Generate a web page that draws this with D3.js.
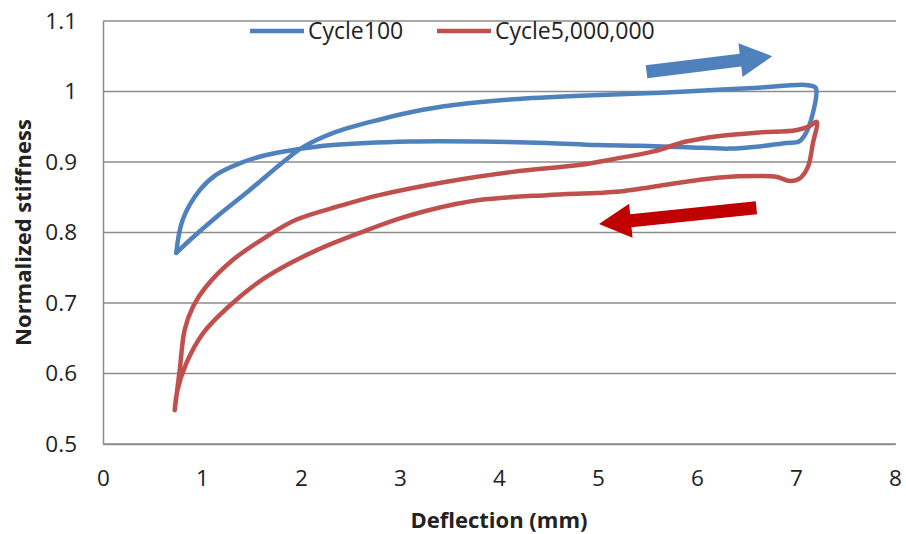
<!DOCTYPE html>
<html>
<head>
<meta charset="utf-8">
<script src="https://cdn.jsdelivr.net/npm/d3@7"></script>
<style>
  body { margin: 0; background: #fff; }
  text { font-family: "Open Sans", "Noto Sans", sans-serif; fill: #222; }
</style>
</head>
<body>
<div id="chart"></div>
<script>
// ---- data ----
const seriesNames = ["Cycle100", "Cycle5,000,000"];
const seriesColors = ["#4f81bd", "#c0504d"];

// Cycle 100 loop (deflection mm, normalized stiffness)
const cycle100X = [0.74, 0.876, 1.145, 1.48, 1.82, 2.02, 2.32, 2.79, 3.23, 3.67, 4.14, 4.82, 5.42, 5.89, 6.57, 7.12, 7.2,
  7.17, 7.1, 7.03, 6.9, 6.63, 6.33, 5.89, 5.42, 4.98, 4.48, 3.8, 3.1, 2.32, 1.92, 1.65, 1.38, 1.145, 0.977, 0.805, 0.74];
const cycle100Y = [0.771, 0.789, 0.822, 0.86, 0.9, 0.921, 0.941, 0.96, 0.974, 0.983, 0.989, 0.994, 0.997, 1.0, 1.005, 1.009, 1.005,
  0.969, 0.941, 0.929, 0.927, 0.922, 0.919, 0.921, 0.923, 0.924, 0.927, 0.929, 0.929, 0.924, 0.917, 0.91, 0.898, 0.882, 0.86, 0.818, 0.771];

// Cycle 5,000,000 loop
const cycle5mX = [0.724, 0.775, 0.825, 0.91, 1.04, 1.31, 1.65, 1.95, 2.4, 2.79, 3.47, 4.14, 4.82, 5.15, 5.56, 5.89, 6.23, 6.63, 7.0, 7.14, 7.21,
  7.17, 7.12, 7.04, 6.94, 6.8, 6.63, 6.23, 5.89, 5.56, 5.22, 4.98, 4.48, 3.8, 3.3, 3.0, 2.66, 2.16, 1.65, 1.31, 1.01, 0.84, 0.75, 0.724];
const cycle5mY = [0.548, 0.605, 0.662, 0.695, 0.723, 0.761, 0.794, 0.818, 0.838, 0.853, 0.872, 0.886, 0.896, 0.904, 0.915, 0.929, 0.937, 0.942, 0.945, 0.951, 0.957,
  0.926, 0.893, 0.877, 0.873, 0.879, 0.88, 0.878, 0.872, 0.865, 0.858, 0.856, 0.853, 0.846, 0.832, 0.82, 0.803, 0.775, 0.737, 0.7, 0.657, 0.614, 0.575, 0.548];

const xTicks = [0, 1, 2, 3, 4, 5, 6, 7, 8];
const yTicks = [0.5, 0.6, 0.7, 0.8, 0.9, 1.0, 1.1];

// direction arrows [tailX, tailY, tipX, tipY] in data units
const arrowBlue = [5.49, 1.028, 6.76, 1.05];
const arrowRed = [6.6, 0.835, 5.01, 0.812];

// ---- layout ----
const width = 906, height = 534;
const margin = { top: 21, right: 11, bottom: 90, left: 103 };

const svg = d3.select("#chart").append("svg")
  .attr("width", width)
  .attr("height", height);

const x = d3.scaleLinear().domain([0, 8]).range([margin.left, width - margin.right]);
const y = d3.scaleLinear().domain([0.5, 1.1]).range([height - margin.bottom, margin.top]);

// gridlines
svg.append("g")
  .selectAll("line")
  .data(yTicks)
  .enter()
  .append("line")
  .attr("x1", x(0))
  .attr("x2", x(8) + 1)
  .attr("y1", (d) => y(d))
  .attr("y2", (d) => y(d))
  .style("stroke", "#8c8c8c")
  .style("stroke-width", 1.5);

// axes
const xAxis = svg.append("g")
  .attr("transform", `translate(0, ${y(0.5)})`)
  .call(d3.axisBottom(x).tickValues(xTicks).tickSize(0).tickPadding(26).tickFormat(d3.format("d")));

const yAxis = svg.append("g")
  .attr("transform", `translate(${x(0)}, 0)`)
  .call(d3.axisLeft(y).tickValues(yTicks).tickSize(0).tickPadding(26).tickFormat((d) => (d === 1 ? "1" : d3.format(".1f")(d))));

xAxis.select(".domain").style("stroke", "#8c8c8c").style("stroke-width", 1.5);
yAxis.select(".domain").style("stroke", "#8c8c8c").style("stroke-width", 1.5);
svg.selectAll(".tick text").style("font-size", "22.5px").style("fill", "#222");

// axis titles
svg.append("text")
  .attr("x", x(4))
  .attr("y", 528)
  .attr("text-anchor", "middle")
  .style("font-size", "22px")
  .style("font-weight", "bold")
  .text("Deflection (mm)");

svg.append("text")
  .attr("transform", `translate(31, ${(y(0.5) + y(1.1)) / 2}) rotate(-90)`)
  .attr("text-anchor", "middle")
  .style("font-size", "22px")
  .style("font-weight", "bold")
  .text("Normalized stiffness");

// loops
const line = d3.line()
  .x((d) => x(d[0]))
  .y((d) => y(d[1]))
  .curve(d3.curveCatmullRom.alpha(0.5));

const loops = [
  d3.zip(cycle100X, cycle100Y),
  d3.zip(cycle5mX, cycle5mY),
];

svg.append("g")
  .selectAll("path")
  .data(loops)
  .enter()
  .append("path")
  .attr("d", line)
  .style("fill", "none")
  .style("stroke", (_, i) => seriesColors[i])
  .style("stroke-width", 4.5)
  .style("stroke-linejoin", "round")
  .style("stroke-linecap", "round");

// legend
const legendPos = [250, 437];
const legend = svg.append("g")
  .selectAll("g")
  .data(seriesNames)
  .enter()
  .append("g")
  .attr("transform", (_, i) => `translate(${legendPos[i]}, 31)`);

legend.append("line")
  .attr("x1", 0)
  .attr("x2", 54)
  .style("stroke", (_, i) => seriesColors[i])
  .style("stroke-width", 4.5);

legend.append("text")
  .attr("x", 58)
  .attr("dy", "0.35em")
  .style("font-size", "23px")
  .text((d) => d);

// block arrows
function arrowPath(a) {
  const x0 = x(a[0]), y0 = y(a[1]), x1 = x(a[2]), y1 = y(a[3]);
  const len = Math.hypot(x1 - x0, y1 - y0);
  const ux = (x1 - x0) / len, uy = (y1 - y0) / len;
  const nx = -uy, ny = ux;
  const shaft = 6.5, head = 17, headLen = 32;
  const bx = x1 - ux * headLen, by = y1 - uy * headLen;
  const pts = [
    [x0 + nx * shaft, y0 + ny * shaft],
    [bx + nx * shaft, by + ny * shaft],
    [bx + nx * head, by + ny * head],
    [x1, y1],
    [bx - nx * head, by - ny * head],
    [bx - nx * shaft, by - ny * shaft],
    [x0 - nx * shaft, y0 - ny * shaft],
  ];
  return "M" + pts.map((p) => p.join(",")).join("L") + "Z";
}

svg.append("path").attr("d", arrowPath(arrowBlue)).style("fill", "#4f81bd");
svg.append("path").attr("d", arrowPath(arrowRed)).style("fill", "#c00000");
</script>
</body>
</html>
